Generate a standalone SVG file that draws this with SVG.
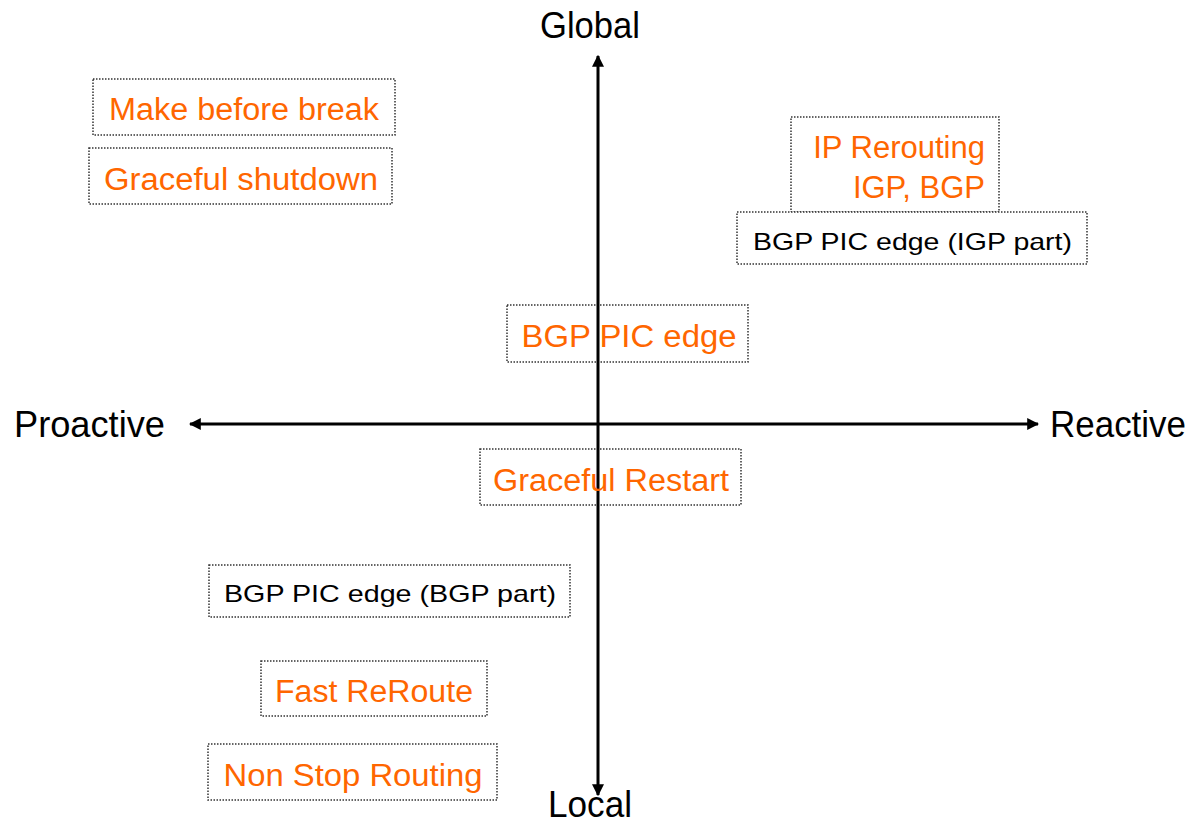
<svg xmlns="http://www.w3.org/2000/svg" width="1191" height="824" viewBox="0 0 1191 824">
<style>
.box{fill:#fff;stroke:#333;stroke-width:1.5;stroke-dasharray:1.5 1.5}
.o{fill:#FF6600;font-family:"Liberation Sans",Arial,sans-serif;font-size:31px}
.k{fill:#000;font-family:"Liberation Sans",Arial,sans-serif;font-size:24px}
.ax{fill:#000;font-family:"Liberation Sans",Arial,sans-serif;font-size:36px}
.axis{stroke:#000;stroke-width:3;fill:none}
</style>
<defs>
<marker id="ah" viewBox="0 0 10 10" refX="9" refY="5" markerWidth="4" markerHeight="4" orient="auto-start-reverse" markerUnits="strokeWidth">
<path d="M0,0 L10,5 L0,10 z" fill="#000"/>
</marker>
</defs>
<rect width="1191" height="824" fill="#fff"/>
<g id="labels">
<text class="ax" x="590" y="38" text-anchor="middle" textLength="100" lengthAdjust="spacingAndGlyphs">Global</text>
<text class="ax" x="590" y="817" text-anchor="middle" textLength="84" lengthAdjust="spacingAndGlyphs">Local</text>
<text class="ax" x="14" y="437" textLength="151" lengthAdjust="spacingAndGlyphs">Proactive</text>
<text class="ax" x="1050" y="437" textLength="136" lengthAdjust="spacingAndGlyphs">Reactive</text>
</g>
<g id="n1"><rect class="box" x="93" y="79" width="302" height="56"/><text class="o" x="244" y="120" text-anchor="middle" textLength="270" lengthAdjust="spacingAndGlyphs">Make before break</text></g>
<g id="n2"><rect class="box" x="89" y="148" width="303" height="56"/><text class="o" x="241" y="190" text-anchor="middle" textLength="274" lengthAdjust="spacingAndGlyphs">Graceful shutdown</text></g>
<g id="n3"><rect class="box" x="791" y="117" width="208" height="95"/><text class="o" x="985" y="158" text-anchor="end">IP Rerouting</text><text class="o" x="985" y="198" text-anchor="end">IGP, BGP</text></g>
<g id="n4"><rect class="box" x="737" y="212" width="350" height="52"/><text class="k" x="753" y="250" textLength="319" lengthAdjust="spacingAndGlyphs">BGP PIC edge (IGP part)</text></g>
<g id="n6"><rect class="box" x="480" y="449" width="261" height="56"/></g>
<g id="n5"><rect class="box" x="507" y="305" width="241" height="57"/></g>
<g id="connectors">
<line class="axis" x1="598" y1="795" x2="598" y2="56" marker-end="url(#ah)" marker-start="url(#ah)"/>
<line class="axis" x1="190" y1="424" x2="1038" y2="424" marker-end="url(#ah)" marker-start="url(#ah)"/>
</g>
<g id="n5t"><text class="o" x="629" y="347" text-anchor="middle" textLength="215" lengthAdjust="spacingAndGlyphs">BGP PIC edge</text></g>
<g id="n6t"><text class="o" x="611" y="491" text-anchor="middle" textLength="236" lengthAdjust="spacingAndGlyphs">Graceful Restart</text></g>
<g id="n7"><rect class="box" x="209" y="565" width="361" height="52"/><text class="k" x="224" y="602" textLength="332" lengthAdjust="spacingAndGlyphs">BGP PIC edge (BGP part)</text></g>
<g id="n8"><rect class="box" x="261" y="661" width="226" height="55"/><text class="o" x="374" y="702" text-anchor="middle" textLength="198" lengthAdjust="spacingAndGlyphs">Fast ReRoute</text></g>
<g id="n9"><rect class="box" x="208" y="744" width="289" height="56"/><text class="o" x="353" y="786" text-anchor="middle" textLength="259" lengthAdjust="spacingAndGlyphs">Non Stop Routing</text></g>
</svg>
